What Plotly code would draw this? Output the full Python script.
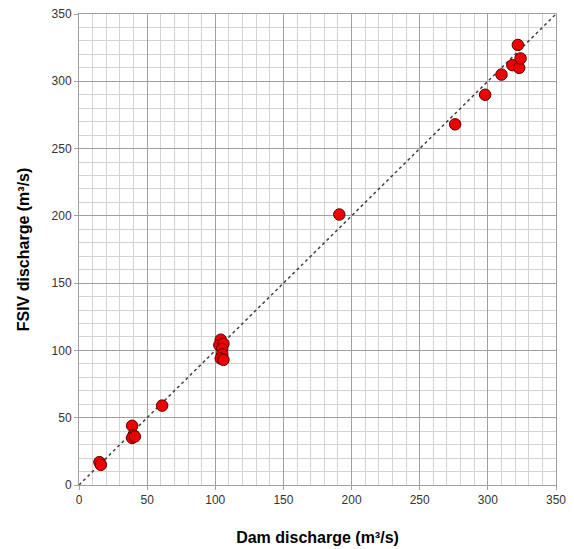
import plotly.graph_objects as go

dam_discharge = [15, 16, 39, 40, 39, 41, 61, 104, 103, 106, 105, 105, 104, 106,
                 191, 276, 298, 310, 318, 323, 322, 324]
fsiv_discharge = [17, 15, 44, 37, 35, 36, 59, 108, 104, 105, 101, 97, 94, 93,
                  201, 268, 290, 305, 312, 310, 327, 317]
line_range = [0, 350]
tick_vals = [0, 50, 100, 150, 200, 250, 300, 350]

fig = go.Figure()
fig.add_trace(go.Scatter(
    x=line_range, y=line_range, mode="lines",
    line=dict(color="#404040", width=1.5, dash="dot"),
    hoverinfo="skip", showlegend=False))
fig.add_trace(go.Scatter(
    x=dam_discharge, y=fsiv_discharge, mode="markers",
    marker=dict(size=11.5, color="#ee0000", line=dict(color="#5a0000", width=1)),
    showlegend=False))

axis_common = dict(
    range=[0, 350], tickvals=tick_vals, showgrid=True, gridcolor="#a0a0a0", gridwidth=1,
    minor=dict(dtick=10, showgrid=True, gridcolor="#d2d2d2", gridwidth=1),
    showline=True, linecolor="#a0a0a0", linewidth=1, mirror=True,
    ticks="outside", ticklen=4, tickcolor="#a0a0a0",
    tickfont=dict(family="Liberation Sans, Arial", size=12, color="#333333"),
    zeroline=False, automargin=False, ticklabeloverflow="allow",
)

fig.update_layout(
    width=574, height=549,
    margin=dict(l=79, r=18, t=14, b=64),
    plot_bgcolor="white", paper_bgcolor="white",
    xaxis=dict(**axis_common,
               title=dict(text="Dam discharge (m³/s)", standoff=25,
                          font=dict(family="Liberation Sans, Arial", size=16, color="black",
                                    weight="bold"))),
    yaxis=dict(**axis_common,
               title=dict(text="FSIV discharge (m³/s)", standoff=17,
                          font=dict(family="Liberation Sans, Arial", size=16, color="black",
                                    weight="bold"))),
)

fig.write_html("out.html", config={"displayModeBar": False},
               post_script="document.body.style.margin='0';")
